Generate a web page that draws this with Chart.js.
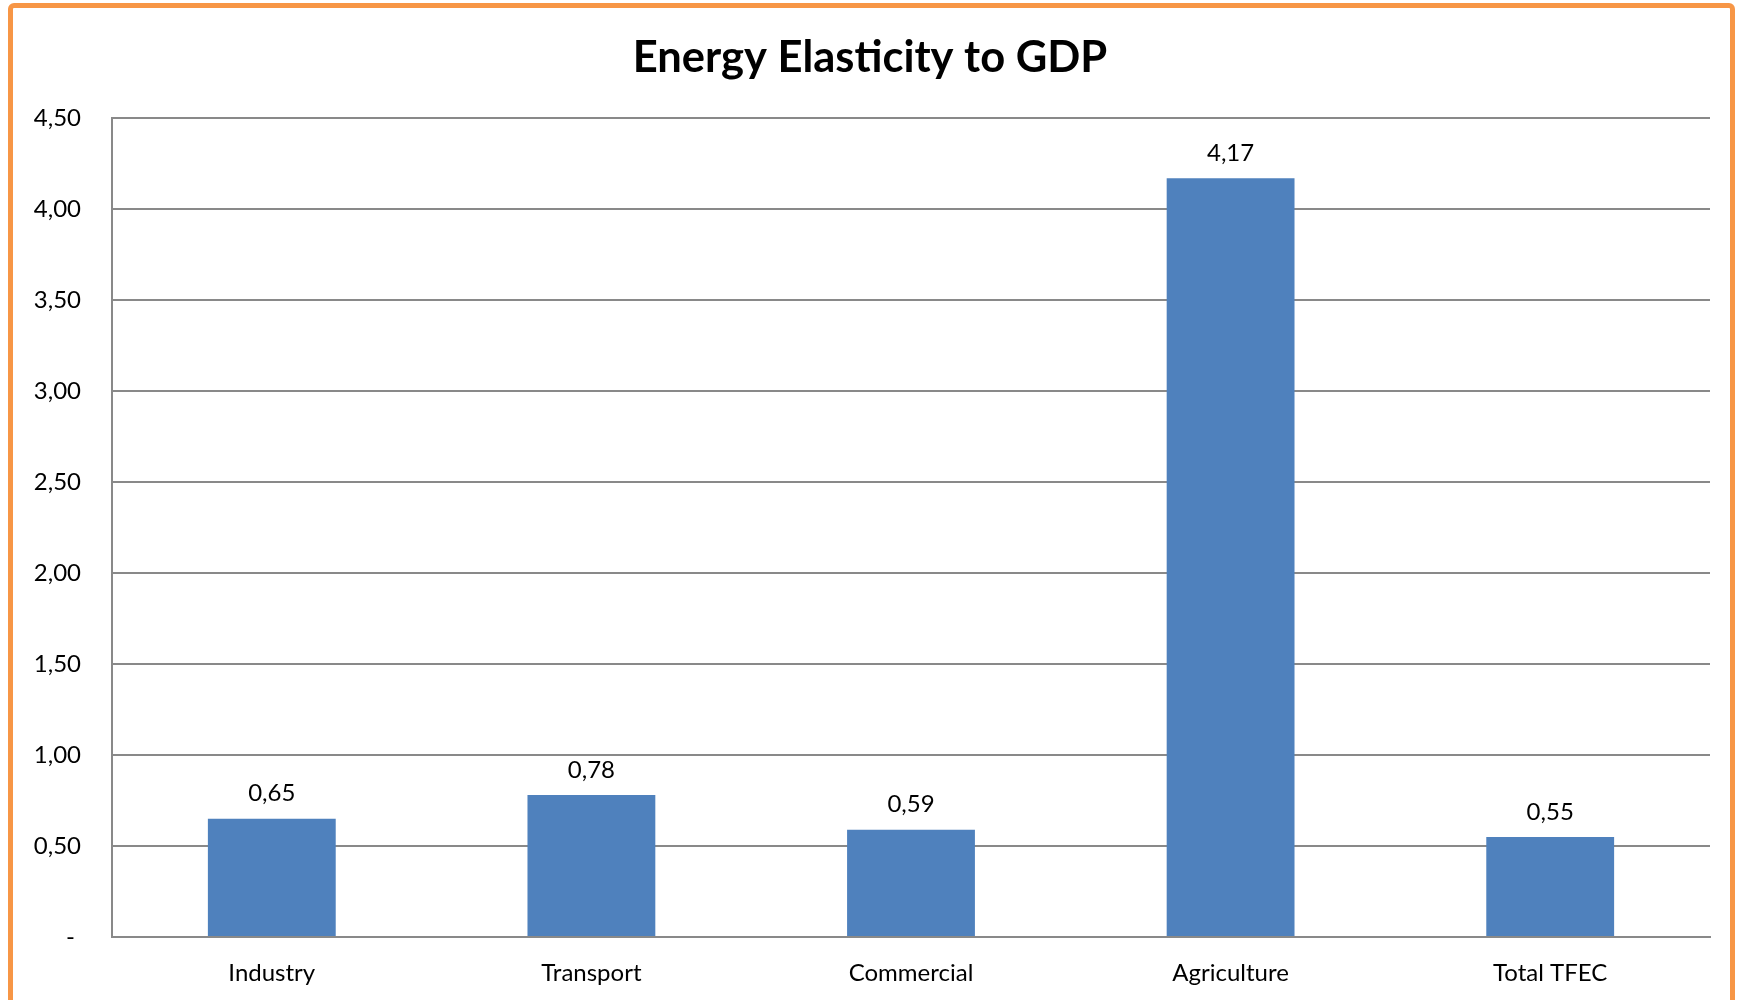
<!DOCTYPE html>
<html lang="en">
<head>
  <meta charset="UTF-8">
  <title>Energy Elasticity to GDP</title>
  <script src="https://cdn.jsdelivr.net/npm/chart.js"></script>
  <style>
    html, body {
      margin: 0;
      padding: 0;
      background-color: #fff;
      overflow: hidden;
    }

    #moldura {
      position: absolute;
      left: 8px;
      top: 3px;
      width: 1727px;
      height: 1010px;
      border: 5px solid #F79646;
      border-radius: 6px;
      box-sizing: border-box;
    }

    #caixa {
      position: absolute;
      left: 0;
      top: 0;
      width: 1743px;
      height: 1000px;
    }
  </style>
</head>
<body>

  <div id="moldura"></div>
  <div id="caixa">
    <canvas id="grafico"></canvas>
  </div>

  <script>
    const categorias = ['Industry', 'Transport', 'Commercial', 'Agriculture', 'Total TFEC'];
    const elasticidade = [0.65, 0.78, 0.59, 4.17, 0.55];
    const ticksY = [0, 0.5, 1, 1.5, 2, 2.5, 3, 3.5, 4, 4.5];

    function formatar(v) {
      if (v === 0) return '- ';
      return v.toFixed(2).replace('.', ',');
    }

    // escreve o valor em cima de cada barra
    const rotulos = {
      id: 'rotulos',
      afterDatasetsDraw(chart) {
        const ctx = chart.ctx;
        const meta = chart.getDatasetMeta(0);
        ctx.save();
        ctx.font = '24px Lato';
        ctx.fillStyle = '#000';
        ctx.textAlign = 'center';
        ctx.textBaseline = 'middle';
        meta.data.forEach((bar, i) => {
          ctx.fillText(formatar(elasticidade[i]), bar.x, bar.y - 25);
        });
        ctx.restore();
      }
    };

    const ctx = document.getElementById('grafico').getContext('2d');
    new Chart(ctx, {
      type: 'bar',
      data: {
        labels: categorias,
        datasets: [{
          label: 'Energy Elasticity to GDP',
          data: elasticidade,
          backgroundColor: '#4F81BD',
          barPercentage: 0.4,
          categoryPercentage: 1
        }]
      },
      options: {
        responsive: true,
        maintainAspectRatio: false,
        animation: false,
        layout: {
          // esquerda 30 para o título ficar quase centrado na moldura
          padding: { left: 30, right: 33, top: 0, bottom: 0 }
        },
        plugins: {
          legend: { display: false },
          tooltip: { enabled: false },
          title: {
            display: true,
            text: 'Energy Elasticity to GDP',
            color: '#000',
            font: { family: 'Lato', size: 43.5, weight: 'bold' },
            padding: { top: 32, bottom: 34 }
          }
        },
        scales: {
          x: {
            grid: { display: false, drawTicks: false },
            border: { display: true, color: '#898989', width: 2 },
            ticks: {
              color: '#000',
              font: { family: 'Lato', size: 24 },
              padding: 22,
              maxRotation: 0
            },
            afterFit(scale) { scale.height = 63; }
          },
          y: {
            min: 0,
            max: 4.5,
            afterBuildTicks(scale) {
              scale.ticks = ticksY.map(v => ({ value: v }));
            },
            grid: { color: '#898989', lineWidth: 2, drawTicks: false },
            border: { display: true, color: '#898989', width: 2 },
            ticks: {
              color: '#000',
              font: { family: 'Lato', size: 24 },
              padding: 31,
              callback: (v) => formatar(v)
            },
            afterFit(scale) { scale.width = 82; }
          }
        }
      },
      plugins: [rotulos]
    });
  </script>

</body>
</html>
